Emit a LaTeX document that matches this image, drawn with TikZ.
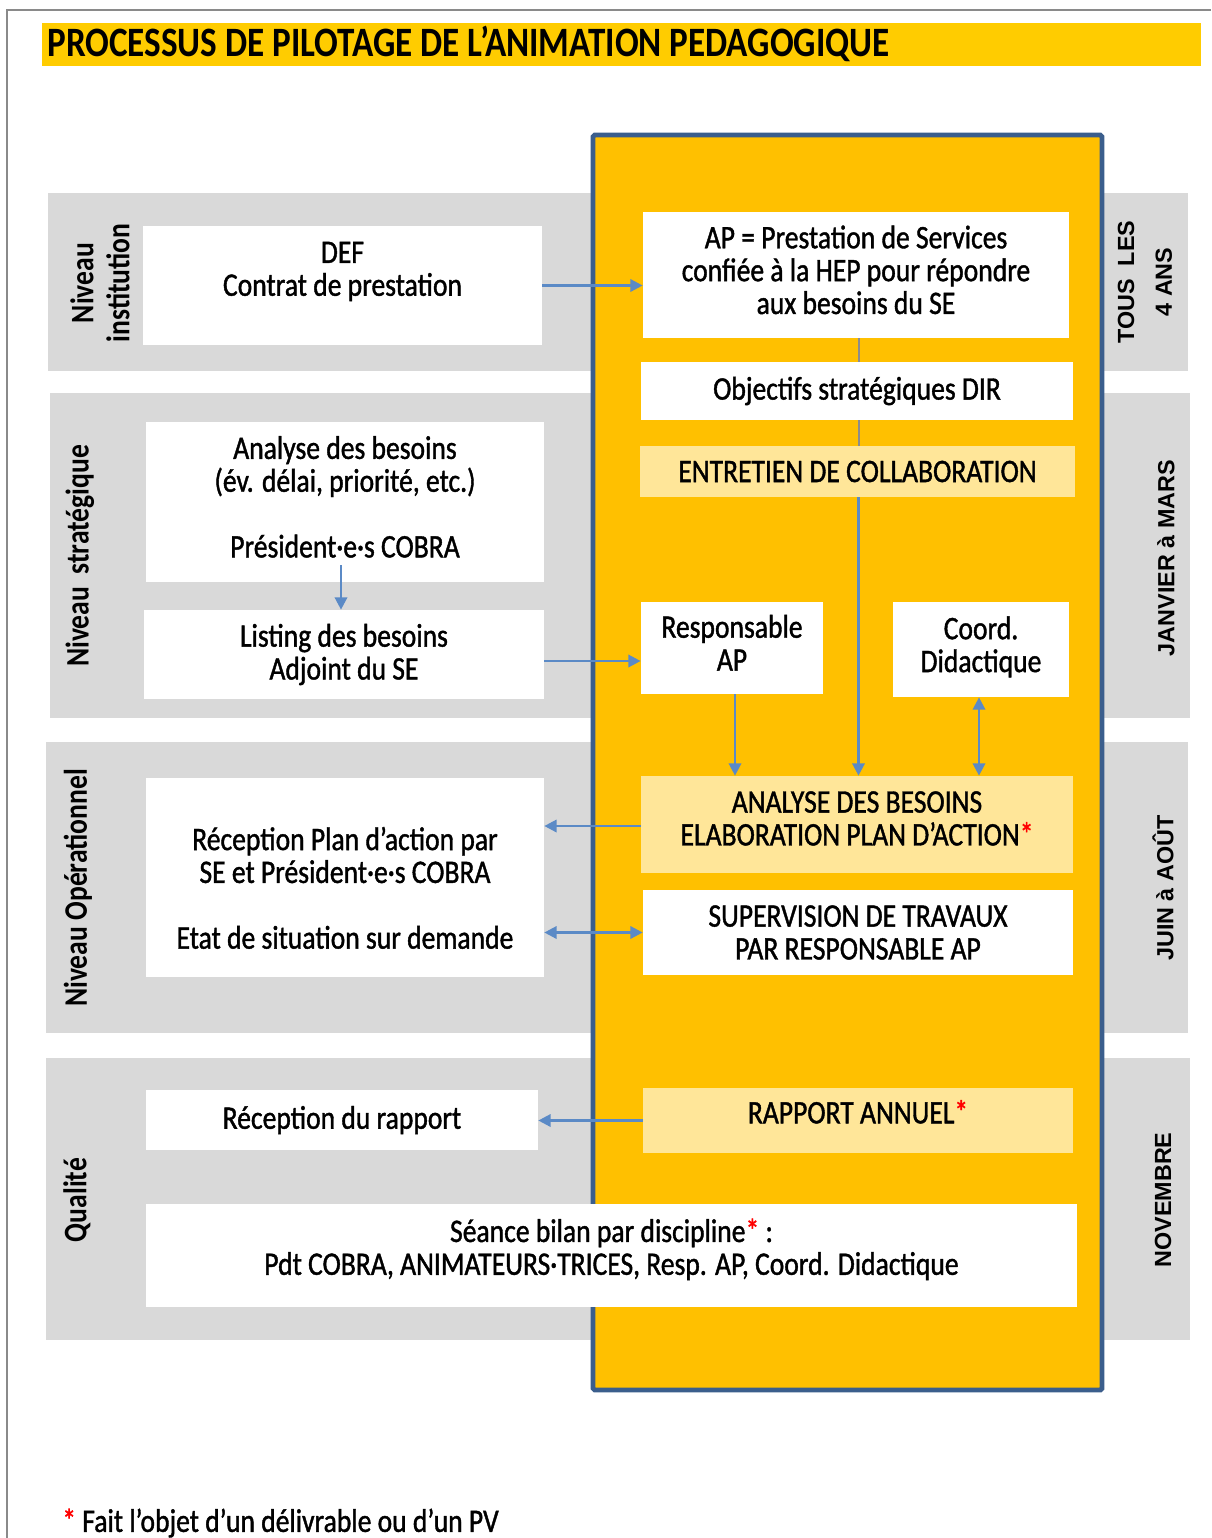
\documentclass[tikz,border=0pt]{standalone}
\usepackage{fontspec}
\setmainfont{Carlito}[FakeStretch=0.84]
\newfontfamily\bodyf{Carlito}[FakeStretch=0.84, FakeBold=1.2]
\newfontfamily\lsans{Liberation Sans}
\usetikzlibrary{arrows.meta,calc}
\definecolor{mainyel}{HTML}{FFC000}
\definecolor{lightyel}{HTML}{FFE699}
\definecolor{titleyel}{HTML}{FFCC00}
\definecolor{bandgray}{HTML}{D9D9D9}
\definecolor{frameblue}{HTML}{3B5E8C}
\definecolor{arrblue}{HTML}{5B8AC6}
\definecolor{conngray}{HTML}{8C8C8C}
\definecolor{pageframe}{HTML}{8A8A8A}
\definecolor{astred}{HTML}{FF0000}
\newcommand{\redast}{\textcolor{astred}{*}}
\tikzset{
  bodyfont/.style={font=\bodyf\fontsize{18.7}{18.7}\selectfont},
  box/.style={rectangle, fill=white, draw=none, inner sep=0pt, align=center, bodyfont},
  ybox/.style={box, fill=lightyel},
  band/.style={fill=bandgray},
  arr/.style={draw=arrblue, line width=1.4pt, -{Triangle[length=7pt,width=7pt]}},
  darr/.style={draw=arrblue, line width=1.4pt, {Triangle[length=7pt,width=7pt]}-{Triangle[length=7pt,width=7pt]}},
  gline/.style={draw=conngray, line width=1.2pt},
  leftlab/.style={rotate=90, align=center, font=\bfseries\fontsize{18.7}{20.4}\selectfont},
  rightlab/.style={rotate=90, align=center, font=\lsans\bfseries\fontsize{13.3}{21.5}\selectfont},
}
\begin{document}
\begin{tikzpicture}[x=0.02cm, y=-0.02cm]
\useasboundingbox (0,0) rectangle (1211,1538);
\fill[white] (0,0) rectangle (1211,1538);
% page frame
\draw[pageframe, line width=1.2pt] (7,1538) -- (7,10) -- (1211,10);
% title
\fill[titleyel] (42,23) rectangle (1201,66);
\node[anchor=west, inner sep=0pt, font=\bfseries\fontsize{23.8}{24}\selectfont] (title) at (47,44) {PROCESSUS DE PILOTAGE DE L’ANIMATION PEDAGOGIQUE};
% bands
\fill[band] (48,193) rectangle (1188,371);
\fill[band] (50,393) rectangle (1190,718);
\fill[band] (46,742) rectangle (1188,1033);
\fill[band] (46,1058) rectangle (1190,1340);
% main column
\draw[draw=frameblue, line width=2.8pt, fill=mainyel, rounded corners=1pt] (593,135) rectangle (1102,1390);
% boxes
\node[box, minimum width=7.98cm, minimum height=2.38cm] (def) at (342.5,285.5) {DEF\\Contrat de prestation\rule[-19pt]{0pt}{19pt}};
\node[box, minimum width=8.52cm, minimum height=2.52cm] (ap) at (856,275) {AP = Prestation de Services\\confiée à la HEP pour répondre\\aux besoins du SE\rule[-6pt]{0pt}{6pt}};
\node[box, minimum width=8.64cm, minimum height=1.16cm] (obj) at (857,391) {Objectifs stratégiques DIR};
\node[ybox, minimum width=8.70cm, minimum height=1.02cm] (ent) at (857.5,471.5) {ENTRETIEN DE COLLABORATION};
\node[box, minimum width=7.96cm, minimum height=3.2cm] (anb) at (345,502) {Analyse des besoins\\(év. délai, priorité, etc.)\\[18.7pt]Président·e·s COBRA\rule[-6pt]{0pt}{6pt}};
\node[box, minimum width=8.0cm, minimum height=1.78cm] (list) at (344,654.5) {Listing des besoins\\Adjoint du SE};
\node[box, minimum width=3.64cm, minimum height=1.84cm] (resp) at (732,648) {Responsable\\AP\rule[-6pt]{0pt}{6pt}};
\node[box, minimum width=3.52cm, minimum height=1.9cm] (coord) at (981,649.5) {Coord.\\Didactique\rule[-6pt]{0pt}{6pt}};
\node[ybox, minimum width=8.64cm, minimum height=1.94cm] (elab) at (857,824.5) {ANALYSE DES BESOINS\\ELABORATION PLAN D’ACTION\redast\rule[-7pt]{0pt}{7pt}};
\node[box, minimum width=8.6cm, minimum height=1.7cm] (sup) at (858,932.5) {SUPERVISION DE TRAVAUX\\PAR RESPONSABLE AP};
\node[box, minimum width=7.96cm, minimum height=3.98cm] (recp) at (345,877.5) {\rule{0pt}{25pt}Réception Plan d’action par\\SE et Président·e·s COBRA\\[18.7pt]Etat de situation sur demande};
\node[ybox, minimum width=8.6cm, minimum height=1.3cm] (rapp) at (858,1120.5) {RAPPORT ANNUEL\redast\rule[-10pt]{0pt}{10pt}};
\node[box, minimum width=7.84cm, minimum height=1.2cm] (recr) at (342,1120) {Réception du rapport};
\node[box, minimum width=18.62cm, minimum height=2.06cm] (seance) at (611.5,1255.5) {Séance bilan par discipline\redast{} :\\Pdt COBRA, ANIMATEURS·TRICES, Resp. AP, Coord. Didactique\rule[-10pt]{0pt}{10pt}};
% connectors
\draw[arr] (def.east) -- (def.east -| ap.west);
\draw[gline] ($(ap.south)+(3,0)$) -- ($(ap.south |- obj.north)+(3,0)$);
\draw[gline] ($(obj.south)+(2,0)$) -- ($(obj.south |- ent.north)+(2,0)$);
\draw[arr] ($(ent.south)+(1,0)$) -- ($(ent.south |- elab.north)+(1,0)$);
\draw[arr] ($(anb.south)+(-4,-17)$) -- ($(anb.south |- list.north)+(-4,0)$);
\draw[arr] ($(list.east)+(0,6.5)$) -- ($(list.east -| resp.west)+(0,6.5)$);
\draw[arr] ($(resp.south)+(3,0)$) -- ($(resp.south |- elab.north)+(3,0)$);
\draw[darr] ($(coord.south)+(-2,0)$) -- ($(coord.south |- elab.north)+(-2,0)$);
\draw[arr] ($(elab.west)+(0,1.5)$) -- ($(elab.west -| recp.east)+(0,1.5)$);
\draw[darr] (sup.west) -- (sup.west -| recp.east);
\draw[arr] (rapp.west) -- (rapp.west -| recr.east);
% side labels
\node[leftlab] (l1) at (100,283) {Niveau\\institution};
\node[leftlab] (l2) at (80,556) {Niveau\ \ stratégique};
\node[leftlab] (l3) at (78,888) {Niveau Opérationnel};
\node[leftlab] (l4) at (77,1200) {Qualité};
\node[rightlab] (r1) at (1145,282) {TOUS\ \ LES\\4 ANS};
\node[rightlab] (r2) at (1166,558) {JANVIER à MARS};
\node[rightlab] (r3) at (1163,888) {JUIN à AOÛT};
\node[rightlab] (r4) at (1163,1200) {NOVEMBRE};
% footer
\node[anchor=west, inner sep=0pt, bodyfont] (foot) at (62,1523) {\redast\ Fait l’objet d’un délivrable ou d’un PV};
\end{tikzpicture}
\end{document}
